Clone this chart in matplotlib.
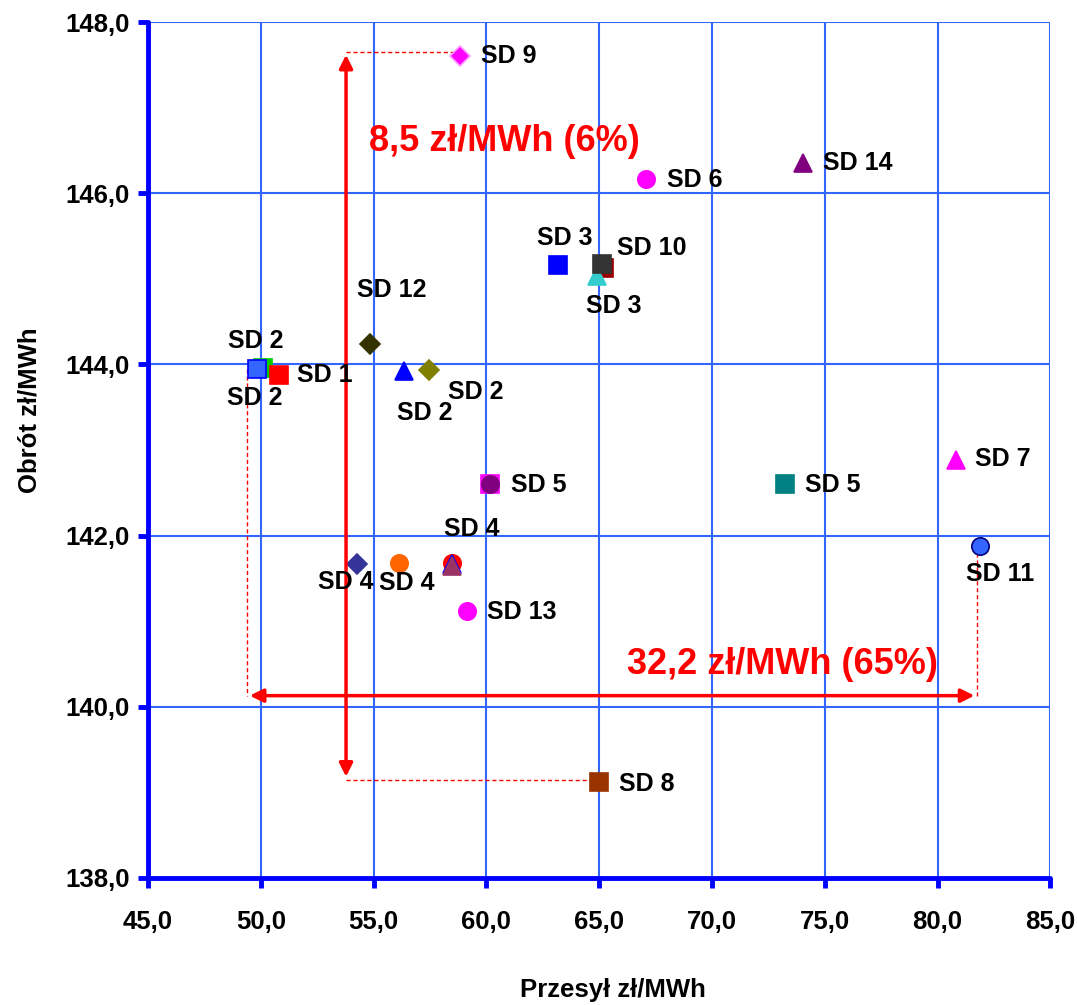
import numpy as np
import matplotlib.pyplot as plt

plt.rcParams['font.family'] = ['Liberation Sans', 'DejaVu Sans']
plt.rcParams['font.weight'] = 'bold'

# points: przesył (x), obrót (y)
przesyl = [58.84, 74.05, 67.08, 63.18, 65.20, 64.91, 65.13, 54.84, 50.10, 49.83,
           50.81, 56.35, 57.46, 60.17, 60.17, 80.83, 73.25, 81.90, 54.27, 56.13,
           58.48, 58.48, 58.48, 59.15, 65.00]
obrot = [147.60, 146.35, 146.17, 145.16, 145.13, 145.03, 145.17, 144.24, 143.96, 143.95,
         143.88, 143.92, 143.93, 142.60, 142.60, 142.88, 142.60, 141.88, 141.67, 141.68,
         141.68, 141.67, 141.65, 141.12, 139.12]
markers = ['D', '^', 'o', 's', 's', '^', 's', 'D', 's', 's',
           's', '^', 'D', 's', 'o', '^', 's', 'o', 'D', 'o',
           'o', '^', '^', 'o', 's']
colors = ['#FF00FF', '#800080', '#FF00FF', '#0000FF', '#990000', '#33CCCC', '#333333', '#333300', '#00CC00', '#3366FF',
          '#FF0000', '#0000FF', '#808000', '#FF00FF', '#800080', '#FF00FF', '#008080', '#3366FF', '#333399', '#FF6600',
          '#FF0000', '#0000FF', '#993366', '#FF00FF', '#993300']
edges = ['#FF99FF', '#800080', '#FF00FF', '#0000FF', '#990000', '#33CCCC', '#333333', '#333300', '#00CC00', '#0000FF',
         '#FF0000', '#0000FF', '#808000', '#FF00FF', '#800080', '#FF00FF', '#008080', '#000080', '#333399', '#FF6600',
         '#FF0000', '#0000FF', '#993366', '#FF00FF', '#993300']

# labels: (index of point, text)
label_idx = [0, 1, 2, 3, 6, 5, 7, 9, 9, 10, 11, 12, 13, 15, 16, 17, 18, 19, 20, 23, 24]
label_txt = ['SD 9', 'SD 14', 'SD 6', 'SD 3', 'SD 10', 'SD 3', 'SD 12', 'SD 2', 'SD 2', 'SD 1',
             'SD 2', 'SD 2', 'SD 5', 'SD 7', 'SD 5', 'SD 11', 'SD 4', 'SD 4', 'SD 4', 'SD 13', 'SD 8']
# offsets in pixels (dx, dy) and alignment
label_off = [(21, 0, 'left'), (20, 0, 'left'), (21, -1, 'left'), (7, 27, 'center'), (15, 16, 'left'),
             (17, -30, 'center'), (22, 54, 'center'), (-1, 28, 'center'), (-2, -29, 'center'), (18, 0, 'left'),
             (21, -42, 'center'), (19, -22, 'left'), (21, -1, 'left'), (19, 1, 'left'), (20, -1, 'left'),
             (20, -28, 'center'), (-11, -18, 'center'), (8, -20, 'center'), (20, 34, 'center'), (20, -1, 'left'),
             (20, -2, 'left')]

range_y = (139.15, 147.65, 53.78)
range_x = (49.39, 81.76, 140.13)

fig = plt.figure(figsize=(10.77, 10.05), dpi=100)
ax = fig.add_axes([0.1374, 0.1264, 0.8378, 0.8517])

for x, y, m, c, e in zip(przesyl, obrot, markers, colors, edges):
    ms = {'s': 12.5, 'o': 12.5, '^': 13, 'D': 10}[m]
    ax.plot(x, y, marker=m, color=c, markeredgecolor=e, markersize=ms, markeredgewidth=1.2,
            linestyle='none', zorder=4)

for i, t, (dx, dy, ha) in zip(label_idx, label_txt, label_off):
    ax.annotate(t, (przesyl[i], obrot[i]), xytext=(dx * 0.72, dy * 0.72), textcoords='offset points',
                ha=ha, va='center', fontsize=18, fontweight='bold', color='black', zorder=6)

# dashed guide lines
red = '#FF0000'
ax.plot([range_y[2], przesyl[0]], [range_y[1], range_y[1]], ls=(0, (3, 2)), color=red, lw=1, zorder=3)
ax.plot([range_y[2], przesyl[24]], [range_y[0], range_y[0]], ls=(0, (3, 2)), color=red, lw=1, zorder=3)
ax.plot([range_x[0], range_x[0]], [obrot[9], range_x[2]], ls=(0, (3, 2)), color=red, lw=1, zorder=3)
ax.plot([range_x[1], range_x[1]], [obrot[17], range_x[2]], ls=(0, (3, 2)), color=red, lw=1, zorder=3)

ax.annotate('', xy=(range_y[2], range_y[1]), xytext=(range_y[2], range_y[0]),
            arrowprops=dict(arrowstyle='<|-|>', color=red, lw=2.5, mutation_scale=20), zorder=5)
ax.annotate('', xy=(range_x[1], range_x[2]), xytext=(range_x[0], range_x[2]),
            arrowprops=dict(arrowstyle='<|-|>', color=red, lw=2.5, mutation_scale=20), zorder=5)

ax.text(60.79, 146.60, '8,5 zł/MWh (6%)', color=red, fontsize=26, fontweight='bold', ha='center', va='center')
ax.text(73.12, 140.49, '32,2 zł/MWh (65%)', color=red, fontsize=26, fontweight='bold', ha='center', va='center')

ax.set_xlim(45, 85)
ax.set_ylim(138, 148)
ax.set_xticks(np.arange(45, 86, 5))
ax.set_yticks(np.arange(138, 149, 2))
ax.set_xticklabels([f'{v:.1f}'.replace('.', ',') for v in np.arange(45, 86, 5)])
ax.set_yticklabels([f'{v:.1f}'.replace('.', ',') for v in np.arange(138, 149, 2)])
ax.grid(True, color='#3366FF', lw=1.5, zorder=0)
ax.set_axisbelow(True)
for s in ['top', 'right']:
    ax.spines[s].set_visible(False)
for s in ['left', 'bottom']:
    ax.spines[s].set_color('#0000FF')
    ax.spines[s].set_linewidth(3.5)
    ax.spines[s].set_capstyle('round')
ax.tick_params(axis='both', direction='out', length=7, width=3.5, color='#0000FF', labelsize=18.5)
ax.tick_params(axis='x', pad=16)
ax.tick_params(axis='y', pad=6)
for lab in ax.get_xticklabels() + ax.get_yticklabels():
    lab.set_fontweight('bold')

ax.set_xlabel('Przesył zł/MWh', fontsize=18.5, fontweight='bold', va='center')
ax.set_ylabel('Obrót zł/MWh', fontsize=18.5, fontweight='bold', va='center')
ax.xaxis.set_label_coords(0.5155, -0.131)
ax.yaxis.set_label_coords(-0.131, 0.547)

fig.savefig('out.png', dpi=100)
